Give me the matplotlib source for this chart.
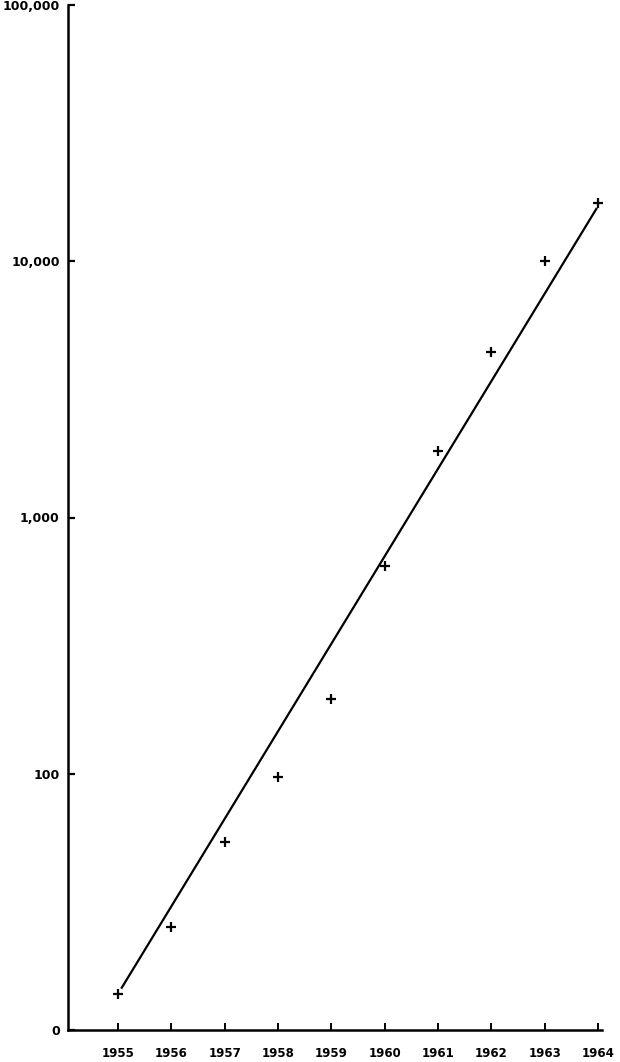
import matplotlib
matplotlib.use("Agg")
import matplotlib.pyplot as plt
from matplotlib.ticker import FixedLocator, FixedFormatter, NullLocator

years = [1955, 1956, 1957, 1958, 1959, 1960, 1961, 1962, 1963, 1964]
values = [13.8, 25.2, 54.2, 97, 196, 647, 1820, 4430, 10000, 16860]
line_years = [1955.06, 1963.98]
line_values = [14.5, 16150]
ytick_values = [10, 100, 1000, 10000, 100000]
ytick_labels = ["0", "100", "1,000", "10,000", "100,000"]
xtick_labels = [str(y) for y in years]

W, H = 620, 1062
fig = plt.figure(figsize=(W / 100, H / 100), dpi=100)
ax = fig.add_axes([68 / W, (H - 1030) / H, (602 - 68) / W, (1030 - 5) / H])

ax.set_yscale("log")
ax.set_ylim(10, 100000)
ax.set_xlim(1954.0625, 1964.075)

ax.plot(line_years, line_values, color="black", lw=1.6, solid_capstyle="butt")
ax.plot(years, values, linestyle="none", marker="+", color="black", ms=7, mew=1.6)

for s in ["top", "right"]:
    ax.spines[s].set_visible(False)
for s in ["left", "bottom"]:
    ax.spines[s].set_linewidth(1.8)

ax.yaxis.set_major_locator(FixedLocator(ytick_values))
ax.yaxis.set_major_formatter(FixedFormatter(ytick_labels))
ax.yaxis.set_minor_locator(NullLocator())
ax.set_xticks(years)
ax.set_xticklabels(xtick_labels)

ax.tick_params(axis="y", direction="in", length=5, width=1.6, pad=6,
               labelsize=9)
ax.tick_params(axis="x", direction="in", length=5, width=1.4, pad=12,
               labelsize=8.5)
for lab in ax.get_xticklabels() + ax.get_yticklabels():
    lab.set_fontweight("bold")
    lab.set_family("DejaVu Sans")

fig.savefig("out.png", dpi=100, facecolor="white")
